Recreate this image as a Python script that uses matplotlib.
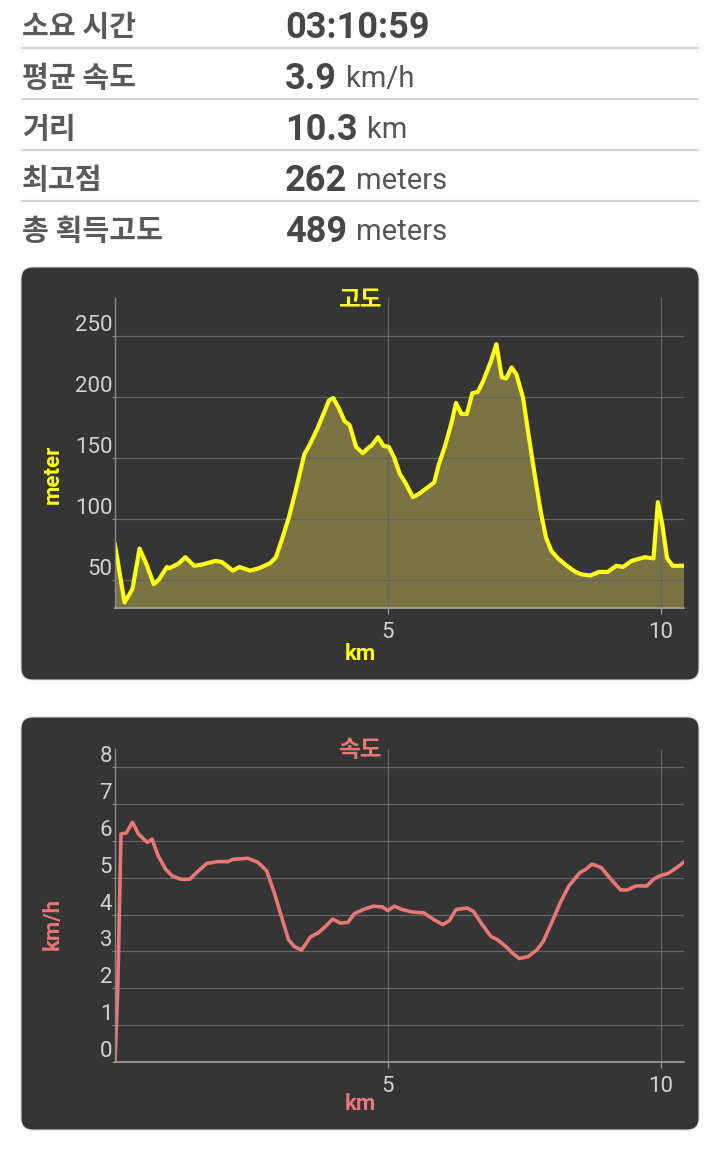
import matplotlib
matplotlib.use("Agg")
import matplotlib.pyplot as plt
from matplotlib.patches import FancyBboxPatch

# 요약 표
row_labels = ["소요 시간", "평균 속도", "거리", "최고점", "총 획득고도"]
row_values = ["03:10:59", "3.9", "10.3", "262", "489"]
row_units = ["", "km/h", "km", "meters", "meters"]

# 고도 (km, meter)
elev_km = [0.0, 0.175, 0.32, 0.45, 0.57, 0.71, 0.81, 0.95, 1.0, 1.17, 1.29, 1.45, 1.6, 1.84,
           1.96, 2.16, 2.28, 2.48, 2.64, 2.84, 2.95, 3.07, 3.19, 3.31, 3.47, 3.57, 3.71, 3.83,
           3.92, 4.0, 4.1, 4.21, 4.3, 4.42, 4.54, 4.66, 4.7, 4.82, 4.92, 5.02, 5.12, 5.22,
           5.32, 5.46, 5.58, 5.73, 5.85, 5.93, 6.05, 6.17, 6.25, 6.35, 6.45, 6.55, 6.65, 6.75,
           6.89, 6.99, 7.09, 7.17, 7.27, 7.36, 7.48, 7.58, 7.68, 7.8, 7.9, 8.0, 8.12, 8.28,
           8.44, 8.55, 8.71, 8.87, 9.03, 9.19, 9.31, 9.47, 9.71, 9.87, 9.95, 10.03, 10.12,
           10.22, 10.42]
elev_m = [79, 32, 43, 76, 64, 47, 51, 61, 60, 64, 69, 62, 63, 66,
          65, 58, 61, 58, 60, 64, 69, 85, 102, 123, 153, 161, 174, 187,
          197, 199, 191, 180, 177, 159, 154, 159, 160, 167, 160, 159, 150, 137,
          130, 118, 121, 126, 130, 144, 160, 179, 195, 186, 186, 203, 204, 213,
          229, 243, 216, 215, 224, 218, 199, 169, 140, 107, 85, 74, 68, 62,
          57, 55, 54, 57, 57, 62, 61, 66, 69, 68, 114, 96, 68,
          62, 62]

# 속도 (km, km/h)
speed_km = [0.0, 0.05, 0.11, 0.21, 0.32, 0.43, 0.59, 0.68, 0.79, 0.93, 1.05, 1.21, 1.37, 1.53,
            1.68, 1.88, 2.07, 2.16, 2.44, 2.62, 2.78, 2.92, 3.03, 3.18, 3.29, 3.42, 3.58, 3.74,
            3.87, 3.99, 4.13, 4.27, 4.39, 4.55, 4.74, 4.9, 5.0, 5.12, 5.26, 5.46, 5.66, 5.85,
            6.01, 6.13, 6.25, 6.45, 6.57, 6.73, 6.89, 7.01, 7.17, 7.29, 7.41, 7.57, 7.73, 7.85,
            8.0, 8.16, 8.32, 8.52, 8.63, 8.74, 8.91, 9.09, 9.27, 9.39, 9.55, 9.75, 9.87, 9.98,
            10.14, 10.3, 10.42]
speed_kmh = [0.0, 1.95, 6.19, 6.22, 6.51, 6.19, 5.96, 6.05, 5.6, 5.23, 5.05, 4.96, 4.96, 5.19,
             5.39, 5.44, 5.44, 5.5, 5.53, 5.42, 5.19, 4.59, 4.05, 3.32, 3.13, 3.04, 3.39, 3.52,
             3.7, 3.88, 3.77, 3.79, 4.03, 4.14, 4.23, 4.21, 4.11, 4.23, 4.14, 4.07, 4.05, 3.86,
             3.73, 3.84, 4.14, 4.18, 4.09, 3.73, 3.41, 3.32, 3.13, 2.95, 2.81, 2.86, 3.04, 3.27,
             3.77, 4.32, 4.78, 5.14, 5.23, 5.37, 5.28, 4.96, 4.67, 4.67, 4.78, 4.78, 4.96, 5.05,
             5.12, 5.28, 5.42]

KR = "Noto Sans CJK KR"
RB = "Roboto"

fig = plt.figure(figsize=(7.2, 11.55), dpi=100)
fig.patch.set_facecolor("white")

# 배경용 축 (픽셀 좌표)
bg = fig.add_axes([0, 0, 1, 1])
bg.set_xlim(0, 720)
bg.set_ylim(1155, 0)
bg.axis("off")

# 표 그리기
for i, (lab, val, unit) in enumerate(zip(row_labels, row_values, row_units)):
    yc = 27 + 51 * i
    bg.text(22, yc, lab, family=KR, fontsize=21, fontweight="bold", color="#5a5a5a", va="center")
    t = bg.text(285, yc + 1, val, family=RB, fontsize=26, fontweight="bold", color="#474747", va="center")
    if unit:
        fig.canvas.draw()
        bb = t.get_window_extent(renderer=fig.canvas.get_renderer())
        bg.text(bb.x1 + 9, yc + 1, unit, family=RB, fontsize=21, color="#555555", va="center")
    if i < 4:
        bg.plot([22, 698], [48 + 51 * i, 48 + 51 * i], color="#d4d4d4", lw=1.6)

# 차트 패널
panel_col = "#353535"
for top in [267, 717]:
    bg.add_patch(FancyBboxPatch((21, top), 678, 413, boxstyle="round,pad=0,rounding_size=12",
                                facecolor=panel_col, edgecolor="#d8d8d8", lw=0.8))


def setup_axis(ax, yticks, ylim):
    ax.set_facecolor("none")
    ax.set_xlim(0, 10.42)
    ax.set_ylim(*ylim)
    ax.set_yticks(yticks, [str(v) for v in yticks], va="bottom")
    ax.set_xticks([5, 10])
    ax.grid(color="#636363", lw=0.9)
    for s in ["top", "right"]:
        ax.spines[s].set_visible(False)
    ax.spines["left"].set_color("#8a8a8a")
    ax.spines["bottom"].set_color("#a0a0a0")
    ax.spines["left"].set_linewidth(1.0)
    ax.spines["bottom"].set_linewidth(1.2)
    ax.tick_params(axis="y", length=2, pad=0, color="#8a8a8a", labelcolor="#d2d2d2", labelsize=16)
    ax.tick_params(axis="x", length=4, pad=6, color="#a0a0a0", labelcolor="#d2d2d2", labelsize=16)
    for lb in ax.get_xticklabels() + ax.get_yticklabels():
        lb.set_family(RB)


# 고도
ax1 = fig.add_axes([115 / 720, 1 - 608 / 1155, 568.5 / 720, 310 / 1155])
setup_axis(ax1, [50, 100, 150, 200, 250], (27.5, 280.7))
ax1.fill_between(elev_km, elev_m, 0, color="#7a7444", lw=0)
ax1.plot(elev_km, elev_m, color="#ffff1a", lw=3.0, solid_joinstyle="round")
bg.text(360, 300, "고도", family=KR, fontsize=17, fontweight="bold", color="#ffff1a", ha="center", va="center")
bg.text(360, 654, "km", family=RB, fontsize=16, fontweight="bold", color="#ffff1a", ha="center", va="center")
bg.text(53, 474, "meter", family=RB, fontsize=16, fontweight="bold", color="#ffff1a",
        ha="center", va="center", rotation=90)

# 속도
ax2 = fig.add_axes([115 / 720, 1 - 1062 / 1155, 568.5 / 720, 313.5 / 1155])
setup_axis(ax2, [0, 1, 2, 3, 4, 5, 6, 7, 8], (0, 8.51))
ax2.plot(speed_km, speed_kmh, color="#e87775", lw=2.6, solid_joinstyle="round")
bg.text(360, 750, "속도", family=KR, fontsize=17, fontweight="bold", color="#e87775", ha="center", va="center")
bg.text(360, 1104, "km", family=RB, fontsize=16, fontweight="bold", color="#e87775", ha="center", va="center")
bg.text(53, 924, "km/h", family=RB, fontsize=16, fontweight="bold", color="#e87775",
        ha="center", va="center", rotation=90)

plt.savefig("out.png", dpi=100)
